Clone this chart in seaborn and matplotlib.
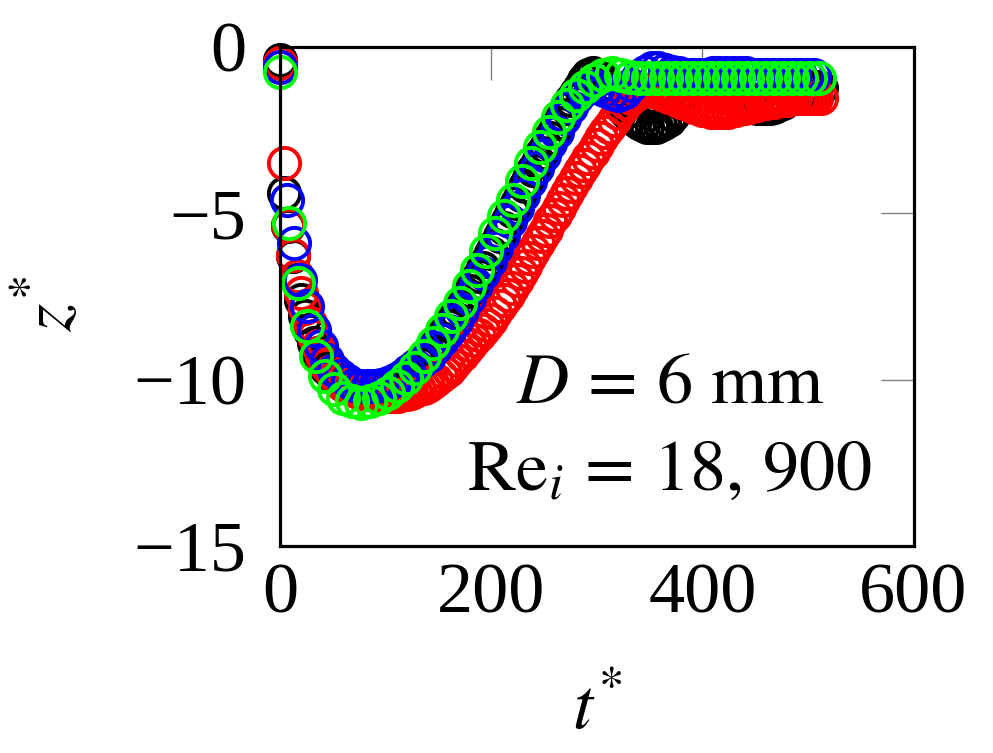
import numpy as np
import matplotlib
matplotlib.use('Agg')
import matplotlib.pyplot as plt
import seaborn as sns

# sampling steps (t* units) of each run
dt_black = 4.0
dt_red = 4.0
dt_blue = 6.4
dt_green = 8.5

z_black = [
    -0.4, -4.4, -5.4, -6.3, -7.0, -7.6, -8.1, -8.55, -8.9, -9.2,
    -9.45, -9.65, -9.8, -9.95, -10.05, -10.15, -10.2, -10.25, -10.3, -10.3,
    -10.3, -10.3, -10.3, -10.25, -10.2, -10.15, -10.1, -10.05, -10.0, -9.9,
    -9.85, -9.75, -9.6, -9.5, -9.35, -9.2, -9.05, -8.9, -8.75, -8.55,
    -8.4, -8.2, -8.0, -7.8, -7.55, -7.35, -7.1, -6.9, -6.65, -6.45,
    -6.2, -5.95, -5.7, -5.45, -5.2, -4.95, -4.7, -4.45, -4.2, -3.95,
    -3.7, -3.45, -3.2, -3.0, -2.75, -2.5, -2.3, -2.05, -1.85, -1.6,
    -1.4, -1.2, -1.0, -0.85, -0.8, -0.85, -0.95, -1.1, -1.25, -1.45,
    -1.6, -1.8, -1.95, -2.1, -2.2, -2.3, -2.35, -2.4, -2.4, -2.4,
    -2.35, -2.3, -2.2, -2.05, -1.9, -1.7, -1.5, -1.3, -1.1, -1.0,
    -0.95, -0.95, -1.0, -1.05, -1.15, -1.25, -1.35, -1.45, -1.55, -1.65,
    -1.7, -1.75, -1.8, -1.85, -1.85, -1.85, -1.85, -1.8, -1.75, -1.7,
    -1.6, -1.5, -1.45, -1.35, -1.3, -1.25, -1.2, -1.2, -1.25,
]

z_red = [
    -0.5, -3.5, -5.35, -6.25, -6.9, -7.4, -7.85, -8.3, -8.7, -9.0,
    -9.3, -9.55, -9.75, -9.9, -10.05, -10.15, -10.25, -10.3, -10.35, -10.4,
    -10.4, -10.45, -10.45, -10.5, -10.5, -10.5, -10.5, -10.5, -10.5, -10.45,
    -10.45, -10.4, -10.35, -10.3, -10.25, -10.2, -10.1, -10.0, -9.9, -9.8,
    -9.7, -9.55, -9.4, -9.25, -9.1, -8.95, -8.8, -8.65, -8.5, -8.35,
    -8.2, -8.0, -7.8, -7.6, -7.45, -7.25, -7.0, -6.8, -6.6, -6.35,
    -6.15, -5.9, -5.7, -5.5, -5.25, -5.05, -4.85, -4.6, -4.4, -4.2,
    -3.95, -3.75, -3.55, -3.35, -3.15, -2.95, -2.75, -2.55, -2.4, -2.2,
    -2.0, -1.85, -1.7, -1.55, -1.45, -1.35, -1.3, -1.3, -1.3, -1.35,
    -1.4, -1.45, -1.5, -1.55, -1.6, -1.65, -1.7, -1.75, -1.8, -1.85,
    -1.9, -1.9, -1.95, -1.95, -1.95, -1.95, -1.95, -1.9, -1.9, -1.85,
    -1.85, -1.8, -1.75, -1.75, -1.7, -1.7, -1.65, -1.65, -1.6, -1.6,
    -1.6, -1.55, -1.55, -1.55, -1.55, -1.55, -1.55, -1.55, -1.55,
]

z_blue = [
    -0.6, -4.6, -5.9, -7.0, -7.8, -8.5, -9.0, -9.4, -9.7, -9.9,
    -10.05, -10.15, -10.2, -10.2, -10.2, -10.15, -10.1, -10.0, -9.9, -9.75,
    -9.6, -9.45, -9.3, -9.05, -8.8, -8.55, -8.25, -7.9, -7.55, -7.15,
    -6.8, -6.45, -6.05, -5.65, -5.25, -4.85, -4.45, -4.05, -3.65, -3.25,
    -2.9, -2.55, -2.15, -1.8, -1.5, -1.3, -1.2, -1.2, -1.3, -1.4,
    -1.45, -1.35, -1.15, -0.9, -0.75, -0.65, -0.65, -0.7, -0.75, -0.8,
    -0.85, -0.85, -0.85, -0.85, -0.8, -0.8, -0.8, -0.8, -0.8, -0.8,
    -0.85, -0.85, -0.85, -0.85, -0.85, -0.85, -0.85, -0.85, -0.85, -0.85,
]

z_green = [
    -0.75, -5.3, -7.1, -8.4, -9.3, -9.9, -10.3, -10.55, -10.65, -10.7,
    -10.65, -10.55, -10.4, -10.2, -9.95, -9.65, -9.3, -8.9, -8.5, -8.1,
    -7.7, -7.2, -6.7, -6.15, -5.6, -5.1, -4.6, -4.05, -3.5, -3.0,
    -2.55, -2.1, -1.75, -1.45, -1.2, -1.0, -0.85, -0.8, -0.85, -0.9,
    -0.95, -0.95, -0.95, -0.95, -0.95, -0.95, -0.95, -0.95, -0.95, -0.95,
    -0.95, -0.95, -0.95, -0.95, -0.95, -0.95, -0.95, -0.95, -0.95, -0.95,
    -0.95,
]

runs = [
    ('black', dt_black, z_black, '#000000'),
    ('red', dt_red, z_red, '#ff0000'),
    ('blue', dt_blue, z_blue, '#0000ff'),
    ('green', dt_green, z_green, '#00ff00'),
]

sns.set_theme(style='white')
plt.rcParams['font.family'] = ['Liberation Serif', 'DejaVu Serif']
plt.rcParams['mathtext.fontset'] = 'stix'
plt.rcParams['axes.unicode_minus'] = True
plt.rcParams['text.color'] = 'black'
plt.rcParams['axes.labelcolor'] = 'black'

fig = plt.figure(figsize=(9.93, 7.53), dpi=100)
ax = fig.add_axes([0.282, 0.275, 0.638, 0.663])

for name, dt, z, c in runs:
    t = dt * np.arange(len(z))
    sns.lineplot(x=t, y=z, ax=ax, color=c, linestyle='', marker='o',
                 markersize=22.5, markerfacecolor='none', markeredgecolor=c,
                 markeredgewidth=2.8, clip_on=False, estimator=None)

ax.set_xlim(0, 600)
ax.set_ylim(-15, 0)
ax.set_xticks([0, 200, 400, 600])
ax.set_yticks([0, -5, -10, -15])
ax.tick_params(direction='in', length=24, width=1.0, color='#808080',
               labelcolor='black', top=True, right=True, labelsize=52)
ax.tick_params(axis='x', pad=12)
ax.tick_params(axis='y', pad=24)
for s in ax.spines.values():
    s.set_color('black')
    s.set_linewidth(2.3)

ax.set_xlabel(r'$t^{*}$', fontsize=52)
ax.set_ylabel(r'$z^{*}$', fontsize=52)
ax.xaxis.set_label_coords(0.5, -0.262)
ax.yaxis.set_label_coords(-0.305, 0.485)

ax.text(369, -10.7, r'$D\,=\,6\ \mathrm{mm}$', fontsize=52, ha='center', va='baseline')
ax.text(369, -13.3, r'$\mathrm{Re}_i\,=\,18,\,900$', fontsize=52, ha='center', va='baseline')

fig.savefig('out.png', dpi=100)
